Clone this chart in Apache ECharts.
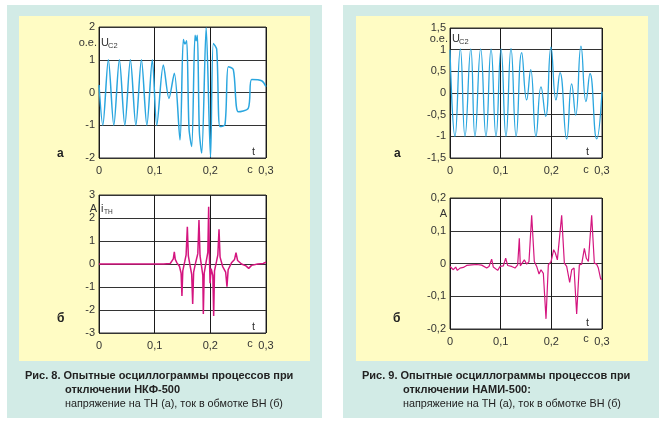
<!DOCTYPE html>
<html><head><meta charset="utf-8">
<script src="https://cdn.jsdelivr.net/npm/echarts@6/dist/echarts.min.js"></script>
<style>html,body{margin:0;padding:0;background:#fff}#c{width:665px;height:426px}</style>
</head><body><div id="c"></div>
<script>
// ---- Fig. 8a: voltage U_C2 (о.е.), НКФ-500
var tA = [0, 0.0068, 0.0168, 0.0266, 0.0366, 0.0464, 0.0564, 0.0662, 0.0762, 0.086, 0.0958, 0.1038, 0.1156, 0.1257, 0.1353, 0.1455, 0.1515, 0.1545, 0.1575, 0.1617, 0.1665, 0.1725, 0.1745, 0.1767, 0.1803, 0.1845, 0.1925, 0.2003, 0.2054, 0.2114, 0.2173, 0.2263, 0.2323, 0.2413, 0.2503, 0.2682, 0.2743, 0.2922, 0.3];
var uA = [0.23, -1, 1, -1, 1, -1, 1, -1, 1, -1, 1, -1, 0.84, -0.18, 0.59, -1.45, 1.62, 1.48, 1.58, -1.1, -1.65, 1.75, 1.58, 1.75, -1.2, -1.85, 1.98, -1.98, 1.5, 1.32, -1.04, -0.98, 0.79, 0.7, -0.59, -0.48, 0.4, 0.36, 0.18];
// ---- Fig. 8б: current i_TH (A)
var tB = [0, 0.11, 0.113, 0.116, 0.119, 0.122, 0.125, 0.128, 0.131, 0.1335, 0.1353, 0.137, 0.14, 0.1445, 0.1475, 0.149, 0.1505, 0.154, 0.1565, 0.1587, 0.1605, 0.164, 0.1665, 0.1683, 0.170, 0.174, 0.1775, 0.1796, 0.1815, 0.1845, 0.1865, 0.1874, 0.189, 0.1925, 0.1955, 0.197, 0.1985, 0.1995, 0.2015, 0.2045, 0.206, 0.2075, 0.211, 0.2135, 0.2156, 0.2175, 0.222, 0.2275, 0.2299, 0.232, 0.238, 0.2435, 0.2461, 0.249, 0.256, 0.264, 0.2689, 0.274, 0.285, 0.295, 0.3];
var iB = [0, 0, 0.03, 0, 0.04, 0.01, 0.05, 0.02, 0.08, 0.22, 0.53, 0.2, 0.05, -0.1, -0.4, -1.39, -0.3, 0.1, 0.4, 1.62, 0.35, -0.12, -0.45, -1.74, -0.35, 0.1, 0.45, 1.91, 0.35, -0.15, -0.5, -2.17, -0.4, 0.1, 0.5, 2.49, 0.2, -0.84, -0.2, -0.5, -2.26, -0.3, 0.1, 0.4, 1.51, 0.3, -0.1, -0.35, -0.99, -0.25, 0.05, 0.2, 0.49, 0.15, 0, -0.08, -0.19, -0.06, 0, 0.02, 0.08];
// ---- Fig. 9a: voltage U_C2 (о.е.), НАМИ-500
var tC = [0, 0.0099, 0.0204, 0.0296, 0.041, 0.0493, 0.0605, 0.071, 0.081, 0.0908, 0.1007, 0.1105, 0.1204, 0.1305, 0.1415, 0.1513, 0.1592, 0.1697, 0.1796, 0.1888, 0.1993, 0.2092, 0.2171, 0.2303, 0.2401, 0.248, 0.2585, 0.2684, 0.2763, 0.2895, 0.3];
var uC = [1.0, -1.0, 1.02, -1.0, 1.02, -1.0, 1.02, -1.0, 1.02, -1.0, 1.02, -1.0, 1.03, -1.0, 0.93, -0.16, 0.54, -1.0, 0.14, -0.54, 1.06, -0.16, 0.47, -1.06, 0.21, -0.51, 1.08, -0.2, 0.45, -1.06, 0.03];
// ---- Fig. 9б: current (A)
var tD = [0, 0.0066, 0.0112, 0.0145, 0.0197, 0.0263, 0.0329, 0.0428, 0.0526, 0.0625, 0.0724, 0.077, 0.0822, 0.0855, 0.0941, 0.0987, 0.1053, 0.1099, 0.1138, 0.1217, 0.1283, 0.1336, 0.1368, 0.1388, 0.1467, 0.1513, 0.1559, 0.1612, 0.1664, 0.1711, 0.1757, 0.1796, 0.1842, 0.1895, 0.1941, 0.1994, 0.2046, 0.2079, 0.2119, 0.2158, 0.2204, 0.2257, 0.2303, 0.2362, 0.2402, 0.2448, 0.25, 0.2553, 0.2599, 0.2652, 0.2691, 0.2731, 0.2796, 0.2849, 0.2895, 0.2928, 0.2974, 0.3];
var iD = [-0.009, -0.019, -0.011, -0.021, -0.014, -0.012, -0.006, -0.004, -0.003, -0.005, -0.014, -0.009, 0.013, -0.011, -0.021, -0.009, -0.007, 0.016, -0.006, -0.009, -0.014, -0.004, 0.077, -0.007, 0.011, -0.002, 0.006, 0.147, 0.006, -0.009, -0.032, -0.019, -0.03, -0.169, -0.004, 0.006, 0.042, 0.032, 0.011, 0.016, 0.147, 0.001, -0.009, -0.058, -0.019, -0.014, -0.154, -0.004, -0.002, 0.046, 0.016, 0.006, 0.147, 0.001, -0.002, -0.014, -0.048, -0.048];

var xTicks = ['0', '0,1', '0,2', '0,3'];

function zip(a, b) { return a.map(function (v, i) { return [v, b[i]]; }); }
function fmt(v) { return String(Math.round(v * 1000) / 1000).replace('.', ','); }

var FONT = '"Liberation Sans", Arial, sans-serif';
var grids = [
  { left: 99, top: 27, width: 167, height: 131 },
  { left: 99, top: 195, width: 167, height: 138 },
  { left: 450, top: 28, width: 152, height: 130 },
  { left: 450, top: 198, width: 152, height: 131 }
];
var yr = [[-2, 2, 1], [-3, 3, 1], [-1.5, 1.5, 0.5], [-0.2, 0.2, 0.1]];

var option = {
  animation: false,
  backgroundColor: '#ffffff',
  grid: grids.map(function (g) {
    return Object.assign({ show: true, backgroundColor: '#ffffff', borderColor: '#333', borderWidth: 1 }, g);
  }),
  xAxis: grids.map(function (g, i) {
    return {
      type: 'value', gridIndex: i, min: 0, max: 0.3, interval: 0.1,
      axisLine: { show: false }, axisTick: { show: false },
      splitLine: { show: true, lineStyle: { color: '#1a1a1a', width: 1 } },
      axisLabel: { margin: 7, color: '#333', fontSize: 11, fontFamily: FONT,
        formatter: function (v) { return xTicks[Math.round(v * 10)]; } }
    };
  }),
  yAxis: grids.map(function (g, i) {
    return {
      type: 'value', gridIndex: i, min: yr[i][0], max: yr[i][1], interval: yr[i][2],
      axisLine: { show: false }, axisTick: { show: false },
      splitLine: { show: true, lineStyle: { color: '#333', width: 1 } },
      axisLabel: { margin: 4, color: '#333', fontSize: 11, fontFamily: FONT, formatter: fmt }
    };
  }),
  series: [
    { type: 'line', xAxisIndex: 0, yAxisIndex: 0, data: zip(tA, uA), showSymbol: false, smooth: 0.3,
      lineStyle: { color: '#2aa6df', width: 1.5 } },
    { type: 'line', xAxisIndex: 1, yAxisIndex: 1, data: zip(tB, iB), showSymbol: false,
      lineStyle: { color: '#d4157f', width: 1.5 } },
    { type: 'line', xAxisIndex: 2, yAxisIndex: 2, data: zip(tC, uC), showSymbol: false, smooth: 0.5,
      lineStyle: { color: '#2aa6df', width: 1.3 } },
    { type: 'line', xAxisIndex: 3, yAxisIndex: 3, data: zip(tD, iD), showSymbol: false,
      lineStyle: { color: '#d4157f', width: 1.2 } }
  ],
  graphic: []
};

function rect(x, y, w, h, c) {
  return { type: 'rect', z: -100, silent: true, shape: { x: x, y: y, width: w, height: h }, style: { fill: c } };
}
function txt(s, x, y, size, opts) {
  opts = opts || {};
  return { type: 'text', z: 100, silent: true, x: x, y: y,
    style: { text: s, fill: opts.color || '#333', font: (opts.bold ? 'bold ' : '') + size + 'px ' + FONT,
      textAlign: opts.align || 'left', textVerticalAlign: 'middle' } };
}
var TEAL = '#d2ebe6', YEL = '#fffcc4';
option.graphic = [
  rect(7, 5, 315, 413, TEAL), rect(343, 5, 316, 413, TEAL),
  rect(19, 16, 291, 345, YEL), rect(356, 16, 292, 345, YEL),
  // chart 1
  txt('о.е.', 97, 43, 11, { align: 'right' }), txt('U', 101, 43, 11), txt('C2', 108, 46, 7.5),
  txt('t', 252, 152, 11), txt('с', 250, 170, 11, { align: 'center' }), txt('а', 57, 154, 12, { bold: true, color: '#222' }),
  // chart 2
  txt('A', 97, 209, 11, { align: 'right' }), txt('i', 101, 209, 11), txt('ТН', 104, 212, 6.5),
  txt('t', 252, 327, 11), txt('с', 250, 344, 11, { align: 'center' }), txt('б', 57, 319, 12, { bold: true, color: '#222' }),
  // chart 3
  txt('о.е.', 448, 39, 11, { align: 'right' }), txt('U', 452, 39, 11), txt('C2', 459, 42, 7.5),
  txt('t', 586, 152, 11), txt('с', 586, 170, 11, { align: 'center' }), txt('а', 394, 154, 12, { bold: true, color: '#222' }),
  // chart 4
  txt('A', 447, 214, 11, { align: 'right' }),
  txt('t', 586, 323, 11), txt('с', 586, 339, 11, { align: 'center' }), txt('б', 393, 319, 12, { bold: true, color: '#222' }),
  // captions
  txt('Рис. 8. Опытные осциллограммы процессов при', 25, 376, 11, { bold: true, color: '#222' }),
  txt('отключении НКФ-500', 65, 390, 11, { bold: true, color: '#222' }),
  txt('напряжение на ТН (а), ток в обмотке ВН (б)', 65, 404, 10.8, { color: '#222' }),
  txt('Рис. 9. Опытные осциллограммы процессов при', 362, 376, 11, { bold: true, color: '#222' }),
  txt('отключении НАМИ-500:', 403, 390, 11, { bold: true, color: '#222' }),
  txt('напряжение на ТН (а), ток в обмотке ВН (б)', 403, 404, 10.8, { color: '#222' })
];

var chart = echarts.init(document.getElementById('c'), null, { renderer: 'canvas' });
chart.setOption(option);
</script></body></html>
